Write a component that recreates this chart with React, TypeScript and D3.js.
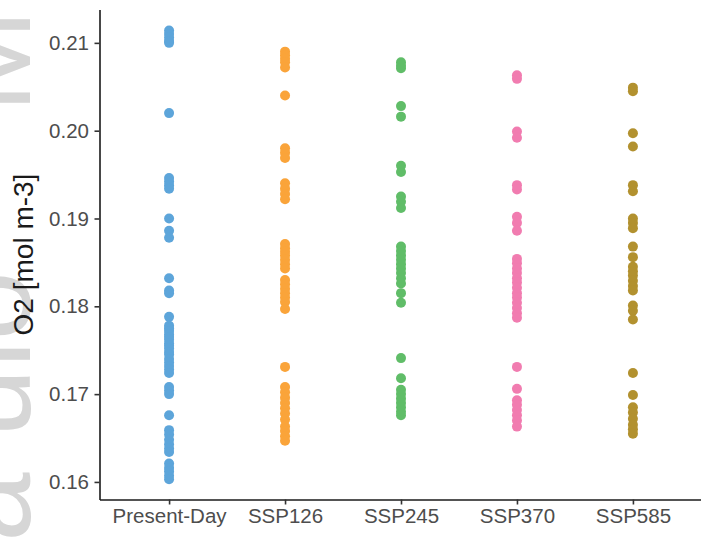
import React, { useRef, useEffect } from "react";
import * as d3 from "d3";

const categories = ["Present-Day", "SSP126", "SSP245", "SSP370", "SSP585"];

const presentDay = [
  0.2114, 0.211, 0.2106, 0.2102, 0.21,
  0.202,
  0.1946, 0.1942, 0.1938, 0.1934,
  0.19, 0.1886, 0.1878,
  0.1832, 0.1818, 0.1815,
  0.1788, 0.1778, 0.1775, 0.1772, 0.1768, 0.1765, 0.1762, 0.1758, 0.1755,
  0.1752, 0.1748, 0.1745, 0.174, 0.1736, 0.1732, 0.1728, 0.1724,
  0.1708, 0.1704, 0.17,
  0.1676,
  0.1659, 0.1654, 0.1648, 0.1643, 0.1638, 0.1634,
  0.1621, 0.1616, 0.1612, 0.1607, 0.1603,
];
const ssp126 = [
  0.209, 0.2086, 0.2082, 0.2078, 0.2072,
  0.204,
  0.198, 0.1975, 0.1969,
  0.194, 0.1934, 0.1928, 0.1922,
  0.1871, 0.1866, 0.1862, 0.1858, 0.1853, 0.1848, 0.1843,
  0.183, 0.1825, 0.182, 0.1815, 0.181, 0.1805, 0.1797,
  0.1731,
  0.1708, 0.1702, 0.1696, 0.169, 0.1684, 0.1678, 0.1671,
  0.1663, 0.1658, 0.1652, 0.1647,
];
const ssp245 = [
  0.2078, 0.2074, 0.2071,
  0.2028, 0.2016,
  0.196, 0.1953,
  0.1925, 0.1919, 0.1912,
  0.1868, 0.1863, 0.1858, 0.1853, 0.1848, 0.1843, 0.1838, 0.1832, 0.1826,
  0.1815, 0.1804,
  0.1741,
  0.1718,
  0.1705, 0.17, 0.1695, 0.169, 0.1685, 0.168, 0.1676,
];
const ssp370 = [
  0.2063, 0.2059,
  0.1999, 0.1992,
  0.1938, 0.1933,
  0.1902, 0.1895, 0.1886,
  0.1854, 0.1849, 0.1843, 0.1838, 0.1832, 0.1827, 0.1821, 0.1815, 0.181,
  0.1804, 0.1798, 0.1792, 0.1787,
  0.1731,
  0.1706,
  0.1693, 0.1688, 0.1682, 0.1676, 0.167, 0.1663,
];
const ssp585 = [
  0.2049, 0.2045,
  0.1997, 0.1982,
  0.1938, 0.1931,
  0.19, 0.1895, 0.1889,
  0.1868, 0.1856,
  0.1845, 0.184, 0.1835, 0.1829, 0.1823, 0.1818,
  0.1801, 0.1795, 0.1785,
  0.1724,
  0.1699,
  0.1685, 0.1679, 0.1672, 0.1665, 0.166, 0.1655,
];

const seriesValues = [presentDay, ssp126, ssp245, ssp370, ssp585];
const colors = ["#5DA5DA", "#FAA43A", "#60BD68", "#F17CB0", "#B2912F"];
const yTicks = [0.16, 0.17, 0.18, 0.19, 0.2, 0.21];
const yTitle = "O2 [mol m-3]";

const font = "'Liberation Sans', Arial, Helvetica, sans-serif";

const App = () => {
  const chart = useRef<SVGSVGElement>(null);

  useEffect(() => {
    const width = 701;
    const height = 540;
    const left = 99.5;
    const bottom = 499.5;

    const svg = d3.select(chart.current);
    svg.selectAll("*").remove();
    svg.attr("width", width).attr("height", height);

    // faded, clipped label at the far left
    const wm = svg.append("text")
      .attr("transform", "translate(30,542) rotate(-90)")
      .attr("font-family", font)
      .attr("font-size", 125)
      .attr("fill", "#D6D6D6");
    wm.append("tspan").text("a ulo");
    wm.append("tspan").attr("dx", 158).text("M");

    const x = d3.scalePoint<string>().domain(categories).range([left, 702.5]).padding(0.6);
    const y = d3.scaleLinear().domain([0.158, 0.2138]).range([bottom, 9.5]);

    const points = categories.flatMap((c, i) =>
      seriesValues[i].map(v => ({ category: c, value: v, color: colors[i] })));

    svg.append("g")
      .selectAll("circle")
      .data(points)
      .join("circle")
      .attr("cx", d => x(d.category) as number)
      .attr("cy", d => y(d.value))
      .attr("r", 5)
      .attr("fill", d => d.color);

    const yAxis = svg.append("g")
      .attr("transform", `translate(${left},0)`)
      .call(d3.axisLeft(y).tickValues(yTicks).tickFormat(d3.format(".2f")).tickSize(5).tickSizeOuter(0).tickPadding(5.5));

    const xAxis = svg.append("g")
      .attr("transform", `translate(0,${bottom})`)
      .call(d3.axisBottom(x).tickSize(5).tickSizeOuter(0).tickPadding(4));

    [yAxis, xAxis].forEach(g => {
      g.attr("font-family", font).attr("font-size", 20.5);
      g.select(".domain").attr("stroke", "#1a1a1a").attr("stroke-width", 1.6);
      g.selectAll(".tick line").attr("stroke", "#333333").attr("stroke-width", 1.6);
      g.selectAll(".tick text").attr("fill", "#4D4D4D");
    });

    svg.append("text")
      .attr("transform", `translate(33,${(bottom + 9.5) / 2}) rotate(-90)`)
      .attr("text-anchor", "middle")
      .attr("font-family", font)
      .attr("font-size", 28)
      .attr("fill", "#1a1a1a")
      .text(yTitle);
  });

  return (
    <svg ref={chart} style={{ position: "absolute", left: 0, top: 0, display: "block", background: "#fff" }} />
  );
};

export default App;
